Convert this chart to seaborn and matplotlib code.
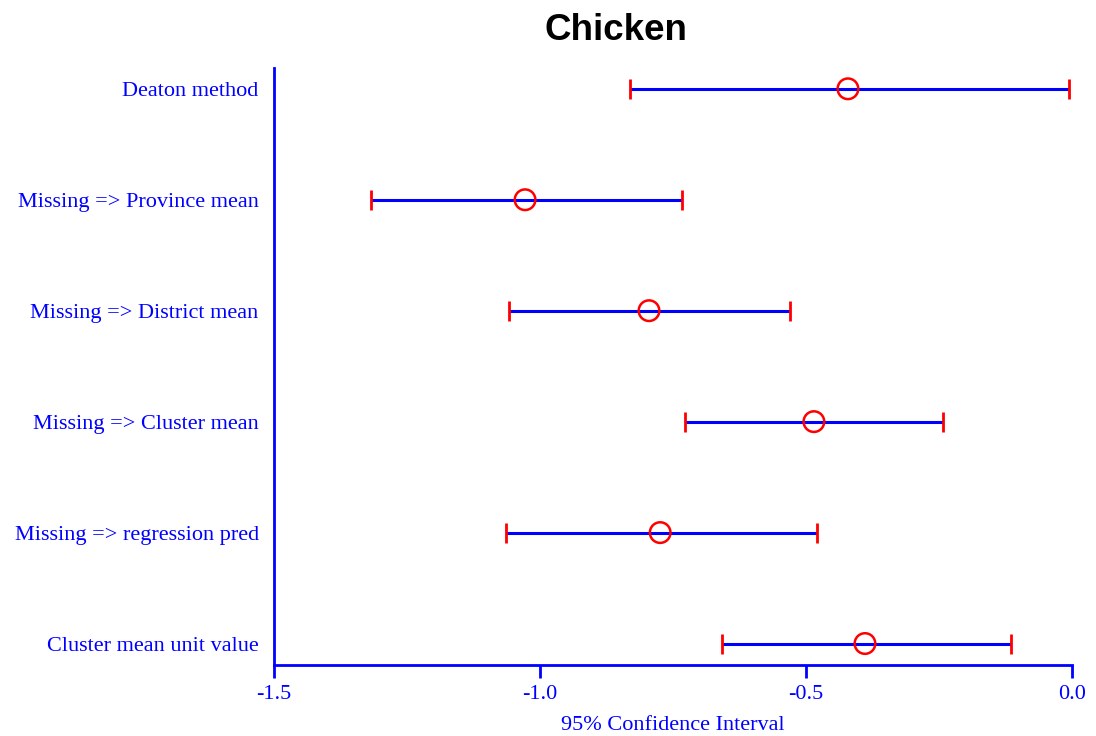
import matplotlib
matplotlib.use("Agg")
import matplotlib.pyplot as plt
import seaborn as sns
import numpy as np
import pandas as pd

# values (top to bottom)
methods = [
    "Deaton method",
    "Missing => Province mean",
    "Missing => District mean",
    "Missing => Cluster mean",
    "Missing => regression pred",
    "Cluster mean unit value",
]
estimates = [-0.421, -1.028, -0.795, -0.485, -0.774, -0.389]
lower = [-0.831, -1.318, -1.058, -0.727, -1.064, -0.658]
upper = [-0.006, -0.733, -0.530, -0.242, -0.479, -0.115]

df = pd.DataFrame({"method": methods, "est": estimates, "lo": lower, "hi": upper})
df["pos"] = np.arange(len(df))[::-1]

sns.set_style("white")
plt.rcParams["font.family"] = ["Liberation Serif", "DejaVu Serif"]

fig, ax = plt.subplots(figsize=(10.96, 7.36), dpi=100)
fig.subplots_adjust(left=0.25, right=0.978, top=0.908, bottom=0.097)

# confidence interval lines
ax.hlines(df["pos"], df["lo"], df["hi"], color="blue", lw=2.2, zorder=2)
# red caps at both ends
sns.scatterplot(data=df, x="lo", y="pos", marker="|", s=200, color="red",
                linewidth=2, ax=ax, zorder=3, legend=False)
sns.scatterplot(data=df, x="hi", y="pos", marker="|", s=200, color="red",
                linewidth=2, ax=ax, zorder=3, legend=False)
# point estimates
sns.scatterplot(data=df, x="est", y="pos", marker="o", s=220, facecolor="none",
                edgecolor="red", linewidth=1.8, ax=ax, zorder=4, legend=False)

ax.set_xlim(-1.5, 0.0)
ax.set_ylim(-0.19, 5.19)
ax.set_xticks([-1.5, -1.0, -0.5, 0.0])
ax.set_xticklabels(["-1.5", "-1.0", "-0.5", "0.0"])
ax.set_yticks(df["pos"])
ax.set_yticklabels(df["method"])

for side in ["top", "right"]:
    ax.spines[side].set_visible(False)
for side in ["left", "bottom"]:
    ax.spines[side].set_color("blue")
    ax.spines[side].set_linewidth(2)

ax.tick_params(axis="x", colors="blue", labelsize=16, length=9, width=2,
               direction="out", bottom=True, pad=6)
ax.tick_params(axis="y", colors="blue", labelsize=16, length=0, pad=11)

ax.set_xlabel("95% Confidence Interval", color="blue", fontsize=16, labelpad=8)
ax.set_ylabel("")
fig.suptitle("Chicken", x=0.562, y=0.982, fontsize=26.5, fontweight="bold",
             color="black", family=["Liberation Sans", "DejaVu Sans"])

fig.savefig("out.png", dpi=100)
